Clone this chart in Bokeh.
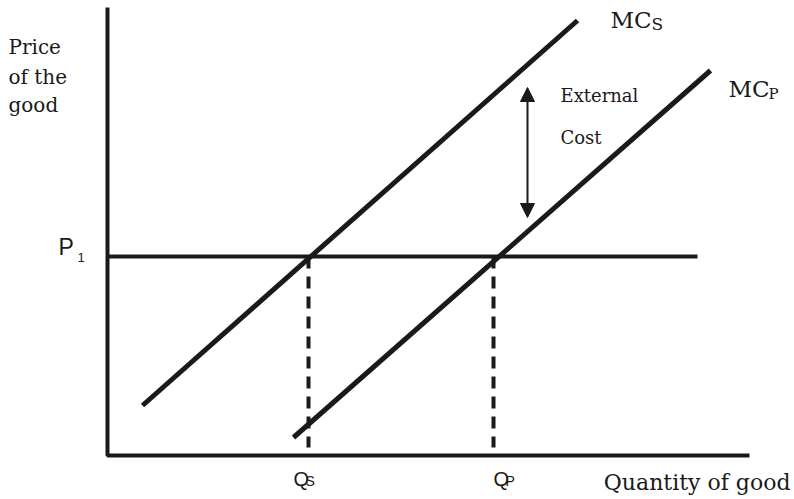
from bokeh.plotting import figure
from bokeh.models import Range1d, Arrow, NormalHead, Label
from bokeh.embed import file_html
from bokeh.resources import INLINE

# ---- data (abstract diagram units: quantity, price) ----
axis_x = [0, 0, 64.2]
axis_y = [44.8, 0, 0]
price_p1 = 19.9
p1_x = [0, 59.0]
mcs_x = [3.5, 47.0]
mcs_y = [5.0, 43.5]
mcp_x = [18.6, 60.3]
mcp_y = [1.8, 38.5]
q_s = 20.1
q_p = 38.6
dash_bottom = 0.8
ext_cost_x = 42.0
ext_cost_y = [23.8, 36.8]

W, H = 794, 499
X0, X1 = -10.7, 68.7
Y0, Y1 = -4.4, 45.5

p = figure(width=W, height=H, output_backend="svg", toolbar_location=None,
           x_range=Range1d(X0, X1), y_range=Range1d(Y0, Y1),
           min_border=0, min_border_left=0, min_border_right=0,
           min_border_top=0, min_border_bottom=0)
p.axis.visible = False
p.grid.visible = False
p.outline_line_color = None
p.background_fill_color = "white"

ink = "#1a1a1a"
p.line(axis_x, axis_y, line_color=ink, line_width=4)
p.line(p1_x, [price_p1, price_p1], line_color=ink, line_width=4)
p.line(mcs_x, mcs_y, line_color=ink, line_width=5)
p.line(mcp_x, mcp_y, line_color=ink, line_width=5)
p.line([q_s, q_s], [price_p1, dash_bottom], line_color=ink, line_width=4, line_dash="12 8")
p.line([q_p, q_p], [price_p1, dash_bottom], line_color=ink, line_width=4, line_dash="12 8")

p.add_layout(Arrow(x_start=ext_cost_x, y_start=ext_cost_y[0], x_end=ext_cost_x, y_end=ext_cost_y[1],
                   line_color=ink, line_width=2,
                   start=NormalHead(size=14, fill_color=ink, line_color=ink),
                   end=NormalHead(size=14, fill_color=ink, line_color=ink)))

serif = "DejaVu Serif"
sans = "Liberation Sans"

def lab(x, y, t, size, font=serif, align="left"):
    p.add_layout(Label(x=x, y=y, text=t, text_font=font, text_font_size=f"{size}px",
                       text_color=ink, text_align=align, text_baseline="alphabetic"))

# y-axis title
lab(-9.9, 40.85, "Price", 20)
lab(-9.9, 37.85, "of the", 20)
lab(-9.9, 35.05, "good", 20)
# x-axis title
lab(68.3, -2.65, "Quantity of good", 22, align="right")
# curve labels
lab(50.3, 43.55, "MC", 23)
lab(54.4, 43.15, "S", 17)
lab(62.1, 36.65, "MC", 23)
lab(66.1, 36.15, "P", 15)
lab(45.3, 36.05, "External", 18)
lab(45.3, 31.85, "Cost", 18)
# price / quantity labels
lab(-4.9, 20.85, "P", 23, font=sans)
lab(-3.0, 19.8, "1", 13, font=sans)
lab(18.6, -2.35, "Q", 20, font=sans)
lab(19.8, -2.55, "S", 14, font=sans)
lab(38.6, -2.35, "Q", 20, font=sans)
lab(39.8, -2.55, "P", 14, font=sans)

open("out.html", "w").write(file_html(p, INLINE))
